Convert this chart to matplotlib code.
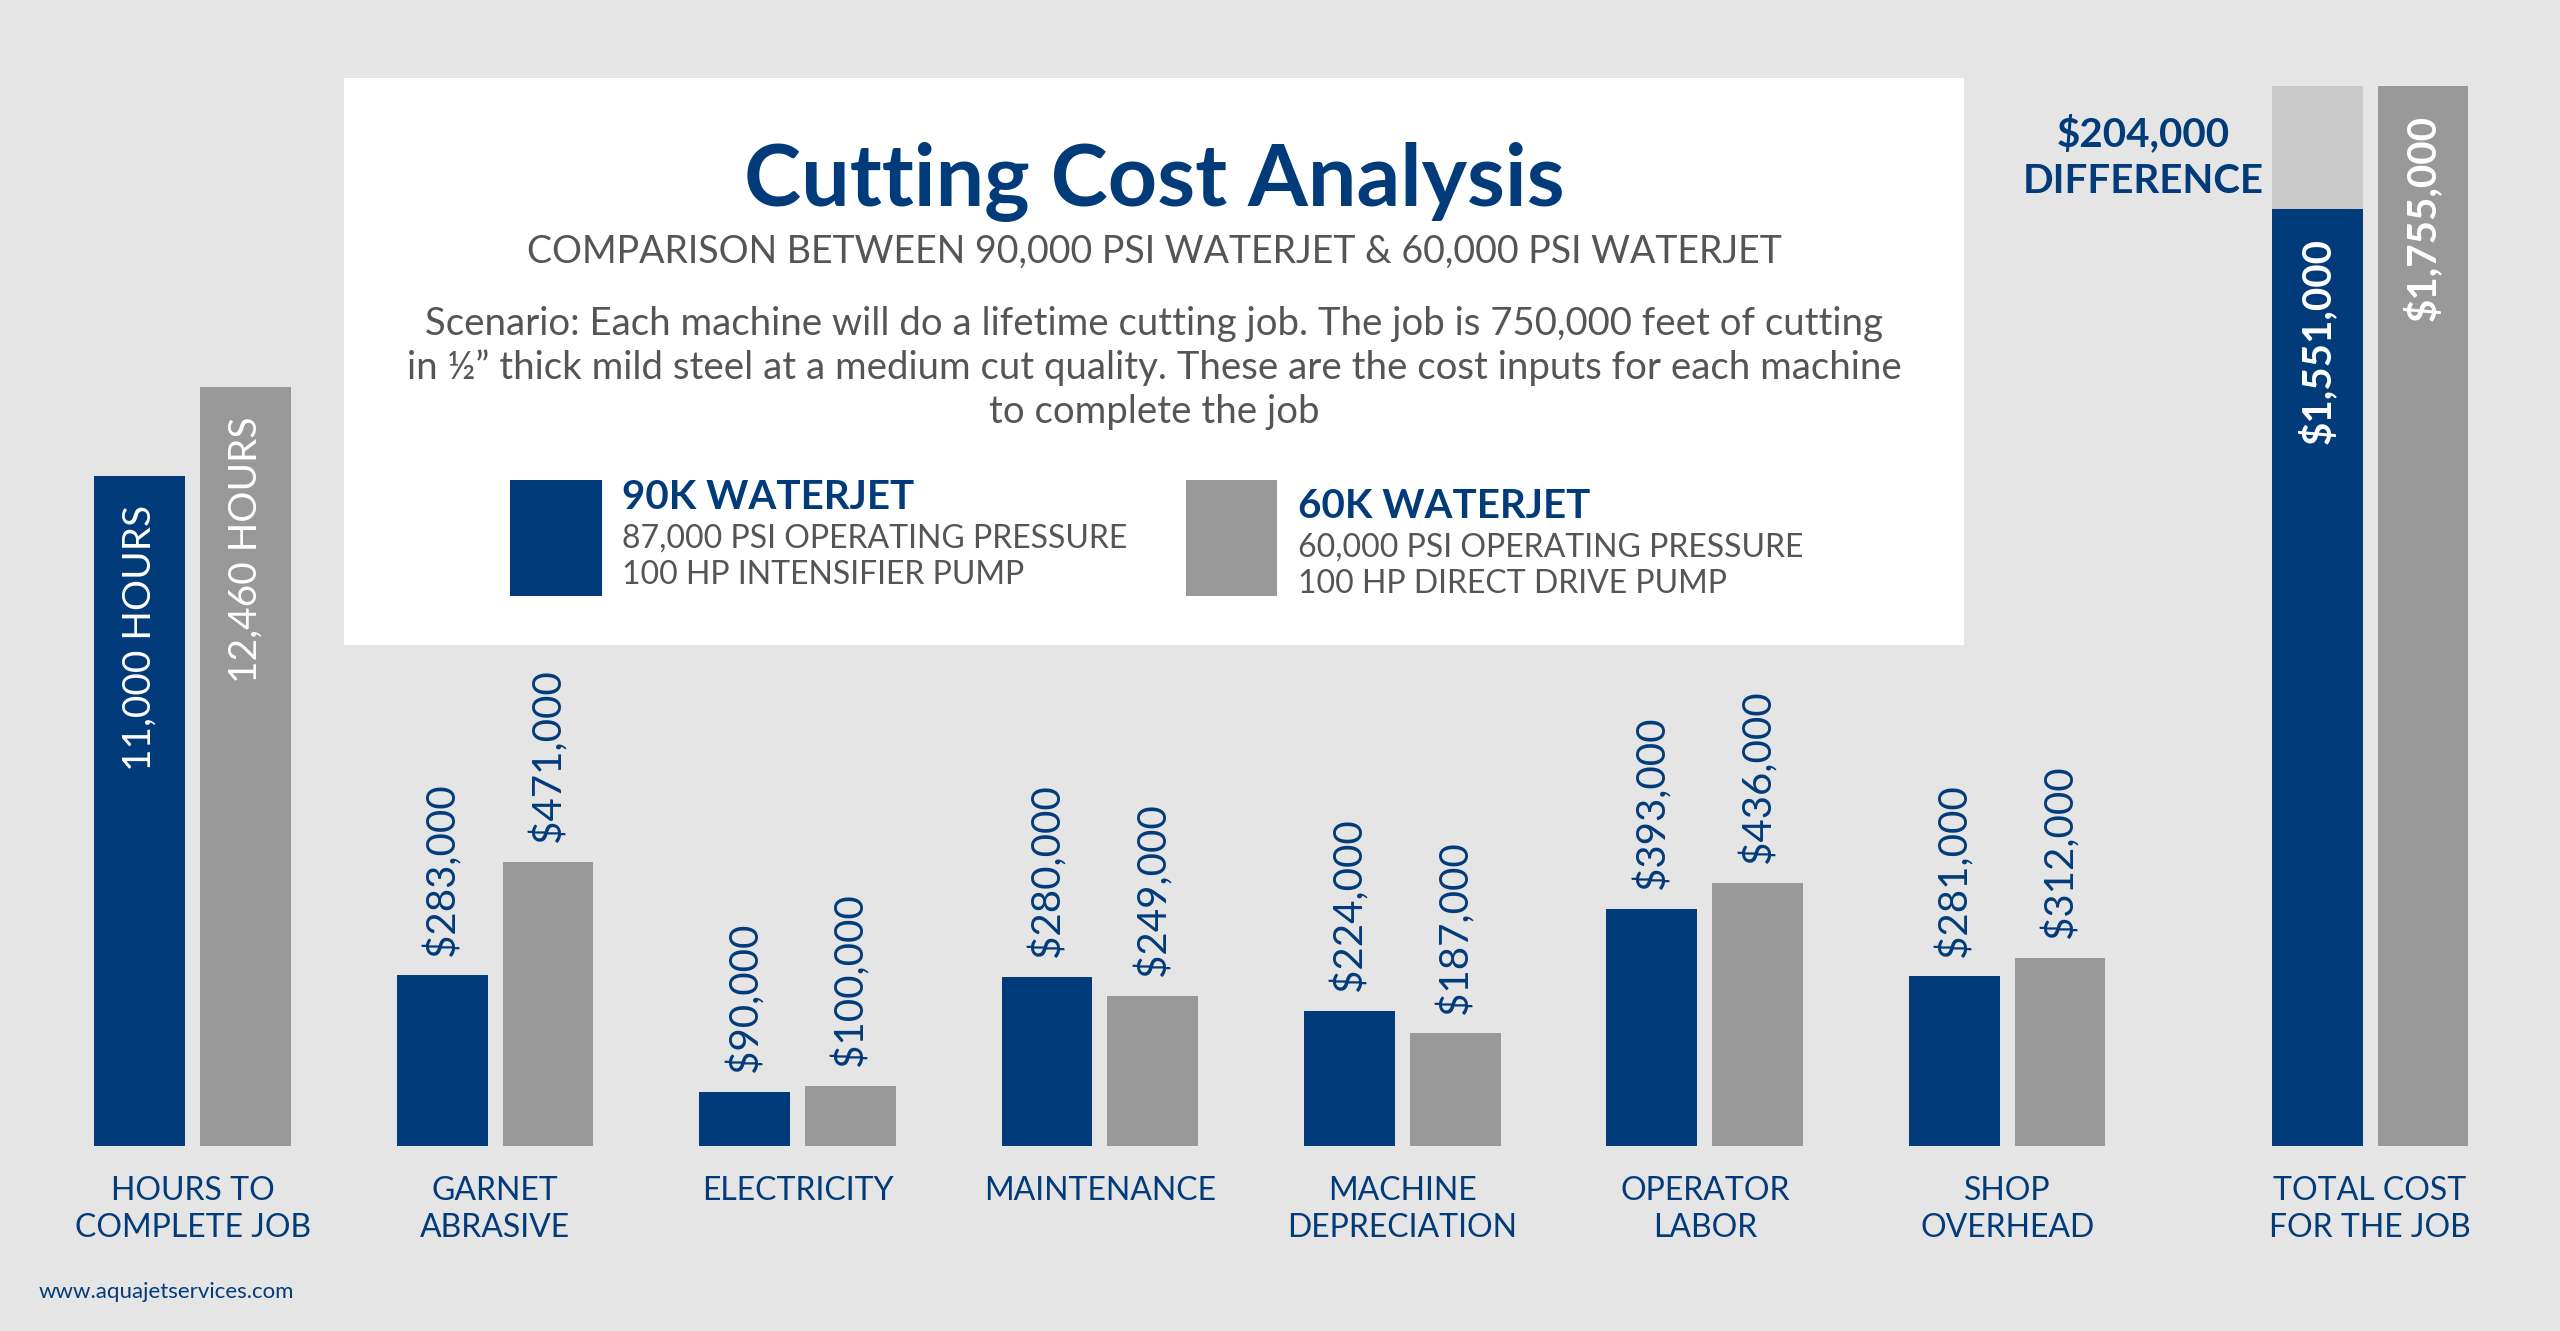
import matplotlib
matplotlib.use("Agg")
import matplotlib.pyplot as plt
from matplotlib.patches import Rectangle

plt.rcParams['font.family'] = ['Lato', 'DejaVu Sans']

# data
categories = ["HOURS TO\nCOMPLETE JOB", "GARNET\nABRASIVE", "ELECTRICITY", "MAINTENANCE",
              "MACHINE\nDEPRECIATION", "OPERATOR\nLABOR", "SHOP\nOVERHEAD", "TOTAL COST\nFOR THE JOB"]
hours_90k = 11000
hours_60k = 12460
cost_90k = [283000, 90000, 280000, 224000, 393000, 281000]
cost_60k = [471000, 100000, 249000, 187000, 436000, 312000]
total_90k = 1551000
total_60k = 1755000

NAVY = "#023b7a"
GRAY = "#999999"
LIGHT = "#c9c9c9"
BG = "#e5e5e5"
TXT_GRAY = "#555555"

W, H = 2560, 1331
fig = plt.figure(figsize=(W / 100, H / 100), dpi=100, facecolor=BG)


def fx(px):
    return px / W


def fy(py):
    return 1 - py / H


# white info box
fig.patches.append(Rectangle((fx(344), fy(645)), fx(1964) - fx(344), fy(78) - fy(645),
                             transform=fig.transFigure, facecolor="white", edgecolor="none", zorder=0))

base = 1146
ax = fig.add_axes([0, fy(base), 1, base / H])
ax.patch.set_alpha(0)
ax2 = ax.twinx()
ax2.patch.set_alpha(0)

pos = [0, 1, 2, 3, 4, 5, 6, 7.2]
off = 0.175
bw = 0.3

# hours (own scale)
ax2.bar(pos[0] - off, hours_90k, bw, color=NAVY)
ax2.bar(pos[0] + off, hours_60k, bw, color=GRAY)
for x, v in [(pos[0] - off, hours_90k), (pos[0] + off, hours_60k)]:
    ax2.annotate(f"{v:,} HOURS", (x, v), xytext=(0, -21), textcoords="offset points",
                 rotation=90, ha="center", va="top", color="white", fontsize=28)

# cost categories
for i, (a, b) in enumerate(zip(cost_90k, cost_60k)):
    p = pos[i + 1]
    ax.bar(p - off, a, bw, color=NAVY)
    ax.bar(p + off, b, bw, color=GRAY)
    for x, v in [(p - off, a), (p + off, b)]:
        ax.annotate(f"${v:,}", (x, v), xytext=(0, 14), textcoords="offset points",
                    rotation=90, ha="center", va="bottom", color=NAVY, fontsize=29)

# totals
pt = pos[7]
ax.bar(pt - off, total_90k, bw, color=NAVY)
ax.bar(pt - off, total_60k - total_90k, bw, bottom=total_90k, color=LIGHT)
ax.bar(pt + off, total_60k, bw, color=GRAY)
for x, v in [(pt - off, total_90k), (pt + off, total_60k)]:
    ax.annotate(f"${v:,}", (x, v), xytext=(0, -21), textcoords="offset points",
                rotation=90, ha="center", va="top", color="white", fontsize=29, fontweight="bold")
ax.annotate(f"${total_60k - total_90k:,}\nDIFFERENCE", (pt - off - bw / 2, (total_90k + total_60k) / 2),
            xytext=(-6, -7), textcoords="offset points", ha="right", va="center",
            multialignment="center", linespacing=1.33, color=NAVY, fontsize=29, fontweight="bold")

ax.set_xlim(-0.637, 7.828)
ax.set_ylim(0, base / 0.000604)
ax2.set_ylim(0, 18818)
ax.set_xticks(pos, categories, fontsize=23, color=NAVY, linespacing=1.3)
ax.tick_params(axis="x", length=0, pad=21.5)
ax.set_yticks([])
ax2.set_yticks([])
for a in (ax, ax2):
    for s in a.spines.values():
        s.set_visible(False)

# header text
fig.text(fx(1154), fy(206), "Cutting Cost Analysis", ha="center", va="baseline",
         fontsize=62, fontweight="bold", color=NAVY)
fig.text(fx(1154), fy(263), "COMPARISON BETWEEN 90,000 PSI WATERJET & 60,000 PSI WATERJET",
         ha="center", va="baseline", fontsize=27, color=TXT_GRAY)
scenario = ["Scenario: Each machine will do a lifetime cutting job. The job is 750,000 feet of cutting",
            "in \u00bd\u201d thick mild steel at a medium cut quality. These are the cost inputs for each machine",
            "to complete the job"]
for k, line in enumerate(scenario):
    fig.text(fx(1154), fy(335 + 44 * k), line, ha="center", va="baseline",
             fontsize=27.6, color=TXT_GRAY)

# legend
fig.patches.append(Rectangle((fx(510), fy(596)), fx(602) - fx(510), fy(480) - fy(596),
                             transform=fig.transFigure, facecolor=NAVY, edgecolor="none"))
fig.patches.append(Rectangle((fx(1186), fy(596)), fx(1277) - fx(1186), fy(480) - fy(596),
                             transform=fig.transFigure, facecolor=GRAY, edgecolor="none"))
fig.text(fx(622), fy(509), "90K WATERJET", va="baseline", fontsize=29, fontweight="bold", color=NAVY)
fig.text(fx(622), fy(548), "87,000 PSI OPERATING PRESSURE", va="baseline", fontsize=23, color=TXT_GRAY)
fig.text(fx(622), fy(584), "100 HP INTENSIFIER PUMP", va="baseline", fontsize=23, color=TXT_GRAY)
fig.text(fx(1298), fy(518), "60K WATERJET", va="baseline", fontsize=29, fontweight="bold", color=NAVY)
fig.text(fx(1298), fy(557), "60,000 PSI OPERATING PRESSURE", va="baseline", fontsize=23, color=TXT_GRAY)
fig.text(fx(1298), fy(593), "100 HP DIRECT DRIVE PUMP", va="baseline", fontsize=23, color=TXT_GRAY)

fig.text(fx(39), fy(1292), "www.aquajetservices.com", va="center", fontsize=16, color=NAVY)

fig.savefig("out.png", dpi=100, facecolor=BG)
